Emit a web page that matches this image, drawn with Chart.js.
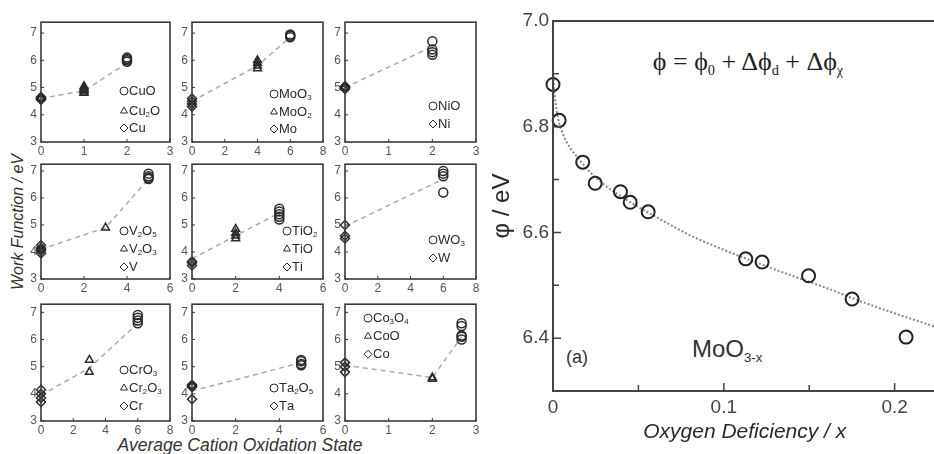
<!DOCTYPE html>
<html>
<head>
<meta charset="utf-8">
<script src="https://cdn.jsdelivr.net/npm/chart.js@4"></script>
<style>
  html, body { margin: 0; padding: 0; background: #fff; overflow: hidden; }
  body { width: 934px; height: 454px; position: relative; font-family: "Liberation Sans", Arial, sans-serif; }
  canvas { position: absolute; }
  .txt { position: absolute; color: #333; white-space: nowrap; }
  .txt sub { font-size: 55%; vertical-align: -0.35em; }
</style>
</head>
<body>
<div class="txt" style="left:18px;top:222px;transform:translate(-50%,-50%) rotate(-90deg);font-style:italic;font-size:16px;">Work Function / eV</div>
<div class="txt" style="left:240px;top:445px;transform:translate(-50%,-50%);font-style:italic;font-size:17.5px;">Average Cation Oxidation State</div>
<div class="txt" style="left:748px;top:63px;transform:translate(-50%,-50%);font-family:'Liberation Serif',serif;font-size:26px;color:#222;">ϕ = ϕ<sub>0</sub> + Δϕ<sub>d</sub> + Δϕ<sub>χ</sub></div>
<div class="txt" style="left:566px;top:357px;transform:translateY(-50%);font-size:18px;">(a)</div>
<div class="txt" style="left:692px;top:350px;transform:translateY(-50%);font-size:24px;">MoO<sub style="font-size:55%">3-x</sub></div>
<script>
// ---- left block: work function vs. average cation oxidation state ----
const cuLabels = ["CuO", "Cu_2O", "Cu"];
const cuStates = [2, 1, 0];
const cuValues = [[5.95, 6.0, 6.05, 6.1], [4.8, 4.85, 4.9, 4.95, 5.0, 5.05], [4.55, 4.58, 4.6, 4.62, 4.65]];
const cuTrendX = [0, 1, 2];
const cuTrendY = [4.6, 4.88, 5.9];

const moLabels = ["MoO_3", "MoO_2", "Mo"];
const moStates = [6, 4, 0];
const moValues = [[6.85, 6.9, 6.95], [5.7, 5.8, 5.9, 6.0], [4.3, 4.4, 4.5, 4.6]];
const moTrendX = [0, 4, 6];
const moTrendY = [4.5, 5.8, 6.85];

const niLabels = ["NiO", "Ni"];
const niStates = [2, 0];
const niValues = [[6.2, 6.3, 6.4, 6.7], [4.95, 4.98, 5.0, 5.02, 5.05]];
const niTrendX = [0, 2];
const niTrendY = [5.0, 6.5];

const vLabels = ["V_2O_5", "V_2O_3", "V"];
const vStates = [5, 3, 0];
const vValues = [[6.7, 6.75, 6.8, 6.9], [4.9], [3.95, 4.05, 4.1, 4.15, 4.25]];
const vTrendX = [0, 3, 5];
const vTrendY = [4.1, 4.9, 6.7];

const tiLabels = ["TiO_2", "TiO", "Ti"];
const tiStates = [4, 2, 0];
const tiValues = [[5.2, 5.3, 5.4, 5.5, 5.6], [4.5, 4.6, 4.7, 4.85], [3.5, 3.6, 3.65]];
const tiTrendX = [0, 2, 4];
const tiTrendY = [3.75, 4.6, 5.45];

const wLabels = ["WO_3", "W"];
const wStates = [6, 0];
const wValues = [[6.2, 6.8, 6.9, 7.0], [4.5, 4.6, 5.0]];
const wTrendX = [0, 6];
const wTrendY = [4.95, 6.7];

const crLabels = ["CrO_3", "Cr_2O_3", "Cr"];
const crStates = [6, 3, 0];
const crValues = [[6.6, 6.7, 6.8, 6.9], [4.8, 5.25], [3.7, 3.85, 4.0, 4.15]];
const crTrendX = [0, 3, 6];
const crTrendY = [3.95, 4.95, 6.6];

const taLabels = ["Ta_2O_5", "Ta"];
const taStates = [5, 0];
const taValues = [[5.05, 5.1, 5.2, 5.25], [3.8, 4.25, 4.28, 4.3, 4.33]];
const taTrendX = [0, 5];
const taTrendY = [4.1, 5.15];

const coLabels = ["Co_3O_4", "CoO", "Co"];
const coStates = [2.67, 2, 0];
const coValues = [[6.0, 6.1, 6.15, 6.5, 6.6], [4.55, 4.6], [4.8, 5.0, 5.15]];
const coTrendX = [0, 2, 2.67];
const coTrendY = [5.05, 4.6, 6.1];

const stateMax = [3, 8, 3, 6, 6, 8, 8, 6, 3];
const stateStep = [1, 2, 1, 2, 2, 2, 2, 2, 1];

// ---- right block: MoO3-x work function vs oxygen deficiency ----
const deficiency = [0, 0.0036, 0.0174, 0.0247, 0.0395, 0.0452, 0.0557, 0.1128, 0.1224, 0.1496, 0.1751, 0.2067];
const phiValues = [6.88, 6.812, 6.733, 6.693, 6.677, 6.657, 6.639, 6.55, 6.544, 6.518, 6.474, 6.402];
const fitX = [0, 0.001, 0.003, 0.006, 0.01, 0.015, 0.02, 0.03, 0.04, 0.05, 0.06, 0.08, 0.1, 0.12, 0.14, 0.16, 0.18, 0.2, 0.225];
const fitY = [6.905, 6.86, 6.815, 6.785, 6.76, 6.74, 6.72, 6.69, 6.668, 6.648, 6.63, 6.595, 6.567, 6.542, 6.518, 6.495, 6.47, 6.447, 6.42];
const phiMinor = [6.5, 6.7, 6.9];
const defMinor = [0.05, 0.15];

const FONT = '"Liberation Sans", Arial, sans-serif';
const INK = "#2a2a2a";

function drawRich(ctx, text, x, y, size) {
  let cx = x;
  for (let i = 0; i < text.length; i++) {
    let ch = text[i];
    if (ch === "_") {
      ch = text[++i];
      ctx.font = Math.round(size * 0.6) + "px " + FONT;
      ctx.fillText(ch, cx, y + size * 0.3);
    } else {
      ctx.font = size + "px " + FONT;
      ctx.fillText(ch, cx, y);
    }
    cx += ctx.measureText(ch).width;
  }
}

const framePlugin = {
  id: "frame",
  afterDraw(chart, args, opts) {
    const { ctx, chartArea: a, scales } = chart;
    ctx.save();
    ctx.strokeStyle = opts.color;
    ctx.lineWidth = opts.width;
    ctx.strokeRect(a.left, a.top, a.right - a.left, a.bottom - a.top);
    ctx.lineWidth = opts.tickWidth;
    ctx.beginPath();
    const xs = scales.x.ticks.map(t => [t.value, opts.tick]).concat((opts.xMinor || []).map(v => [v, opts.minor]));
    const ys = scales.y.ticks.map(t => [t.value, opts.tick]).concat((opts.yMinor || []).map(v => [v, opts.minor]));
    xs.forEach(([v, len]) => {
      const px = scales.x.getPixelForValue(v);
      ctx.moveTo(px, a.bottom);
      ctx.lineTo(px, a.bottom - len);
    });
    ys.forEach(([v, len]) => {
      const py = scales.y.getPixelForValue(v);
      ctx.moveTo(a.left, py);
      ctx.lineTo(a.left + len, py);
    });
    ctx.stroke();

    // legend (key) drawn from the chart's own datasets
    if (opts.key) {
      const k = opts.key;
      const sets = chart.data.datasets.filter(d => d.keyLabel);
      ctx.textBaseline = "middle";
      sets.forEach((d, i) => {
        const x = a.left + k.dx;
        const y = k.fromTop ? a.top + k.rows[i] : a.bottom - k.rows[i];
        ctx.save();
        ctx.strokeStyle = INK;
        ctx.fillStyle = "rgba(0,0,0,0)";
        Chart.helpers.drawPoint(ctx, { pointStyle: d.pointStyle, radius: 4, borderWidth: 1.5, rotation: 0 }, x, y);
        ctx.restore();
        ctx.fillStyle = INK;
        drawRich(ctx, d.keyLabel, x + 5, y, 13);
      });
    }
    ctx.restore();
  }
};

function addCanvas(left, top, w, h) {
  const c = document.createElement("canvas");
  c.width = w; c.height = h;
  c.style.left = left + "px"; c.style.top = top + "px";
  document.body.appendChild(c);
  return c;
}

const panelLabels = [cuLabels, moLabels, niLabels, vLabels, tiLabels, wLabels, crLabels, taLabels, coLabels];
const panelStates = [cuStates, moStates, niStates, vStates, tiStates, wStates, crStates, taStates, coStates];
const panelValues = [cuValues, moValues, niValues, vValues, tiValues, wValues, crValues, taValues, coValues];
const panelTrendX = [cuTrendX, moTrendX, niTrendX, vTrendX, tiTrendX, wTrendX, crTrendX, taTrendX, coTrendX];
const panelTrendY = [cuTrendY, moTrendY, niTrendY, vTrendY, tiTrendY, wTrendY, crTrendY, taTrendY, coTrendY];

// layout of the 3x3 grid (pixels)
const colLeft = [41, 192, 345], colWidth = [129, 131, 131];
const rowTop = [19, 161, 301], rowHeight = [123, 118, 120], rowMax = [7.4, 7.25, 7.3];
const keyPos = [
  { dx: 83, rows: [51, 31, 14] }, { dx: 82, rows: [48, 30, 13] }, { dx: 88, rows: [36, 18] },
  { dx: 83, rows: [48, 30, 12] }, { dx: 95, rows: [48, 30, 12] }, { dx: 88, rows: [39, 21] },
  { dx: 83, rows: [51, 33, 15] }, { dx: 82, rows: [33, 15] }, { dx: 23, rows: [14, 32, 50], fromTop: true }
];
const PADL = 30, PADT = 8, PADR = 10, PADB = 20;

for (let p = 0; p < 9; p++) {
  const r = Math.floor(p / 3), c = p % 3;
  const cv = addCanvas(colLeft[c] - PADL, rowTop[r] - PADT, colWidth[c] + PADL + PADR, rowHeight[r] + PADT + PADB);
  const labels = panelLabels[p];
  const shapes = labels.length === 3 ? ["circle", "triangle", "rectRot"] : ["circle", "rectRot"];
  const datasets = labels.map((lab, i) => ({
    keyLabel: lab,
    data: panelValues[p][i].map(v => ({ x: panelStates[p][i], y: v })),
    pointStyle: shapes[i],
    pointRadius: 4.5,
    borderColor: INK,
    backgroundColor: "rgba(0,0,0,0)",
    pointBorderWidth: 1.5,
    showLine: false,
    clip: false
  }));
  datasets.push({
    data: panelTrendX[p].map((x, i) => ({ x, y: panelTrendY[p][i] })),
    showLine: true,
    pointRadius: 0,
    borderColor: "#aaa",
    borderWidth: 1.5,
    borderDash: [5, 4],
    clip: false
  });
  new Chart(cv, {
    type: "scatter",
    data: { datasets },
    plugins: [framePlugin],
    options: {
      responsive: false,
      animation: false,
      layout: { padding: { top: PADT, right: PADR, left: 0, bottom: 0 } },
      plugins: {
        legend: { display: false },
        tooltip: { enabled: false },
        frame: { color: "#3a3a3a", width: 1.6, tickWidth: 1, tick: 3, minor: 2, key: keyPos[p] }
      },
      scales: {
        x: {
          type: "linear", min: 0, max: stateMax[p],
          grid: { display: false, drawTicks: false }, border: { display: false },
          ticks: { stepSize: stateStep[p], includeBounds: false, padding: 2, color: "#555", font: { family: FONT, size: 12 } },
          afterFit: s => { s.height = PADB; }
        },
        y: {
          type: "linear", min: 3, max: rowMax[r],
          grid: { display: false, drawTicks: false }, border: { display: false },
          ticks: { stepSize: 1, includeBounds: false, padding: 4, color: "#555", font: { family: FONT, size: 12 } },
          afterFit: s => { s.width = PADL; }
        }
      }
    }
  });
}

// ---- right chart ----
const big = addCanvas(480, 0, 465, 454);
new Chart(big, {
  type: "scatter",
  data: {
    datasets: [
      {
        data: deficiency.map((x, i) => ({ x, y: phiValues[i] })),
        pointStyle: "circle",
        pointRadius: 6.5,
        pointBorderWidth: 2,
        borderColor: "#222",
        backgroundColor: "rgba(0,0,0,0)",
        clip: false
      },
      {
        data: fitX.map((x, i) => ({ x, y: fitY[i] })),
        showLine: true,
        cubicInterpolationMode: "monotone",
        pointRadius: 0,
        borderColor: "#888",
        borderWidth: 2,
        borderDash: [2, 2]
      }
    ]
  },
  plugins: [framePlugin],
  options: {
    responsive: false,
    animation: false,
    layout: { padding: { top: 21, right: 0, left: 0, bottom: 0 } },
    plugins: {
      legend: { display: false },
      tooltip: { enabled: false },
      frame: { color: "#444", width: 2, tickWidth: 1.5, tick: 8, minor: 6, xMinor: defMinor, yMinor: phiMinor }
    },
    scales: {
      x: {
        type: "linear", min: 0, max: 0.2245,
        grid: { display: false, drawTicks: false }, border: { display: false },
        ticks: { stepSize: 0.1, includeBounds: false, padding: 5, color: "#444", font: { family: FONT, size: 19 },
          callback: v => (v === 0 ? "0" : v.toFixed(1)) },
        title: { display: true, text: "Oxygen Deficiency / x", color: INK, padding: { top: 0, bottom: 9 },
          font: { family: FONT, size: 21, style: "italic" } },
        afterFit: s => { s.height = 63; }
      },
      y: {
        type: "linear", min: 6.3, max: 7.0,
        grid: { display: false, drawTicks: false }, border: { display: false },
        ticks: { stepSize: 0.2, includeBounds: false, padding: 4, color: "#444", font: { family: FONT, size: 19 },
          callback: v => v.toFixed(1) },
        title: { display: true, text: "φ / eV", color: INK, padding: { top: 8, bottom: 0 },
          font: { family: FONT, size: 24 } },
        afterFit: s => { s.width = 73; }
      }
    }
  }
});
</script>
</body>
</html>
